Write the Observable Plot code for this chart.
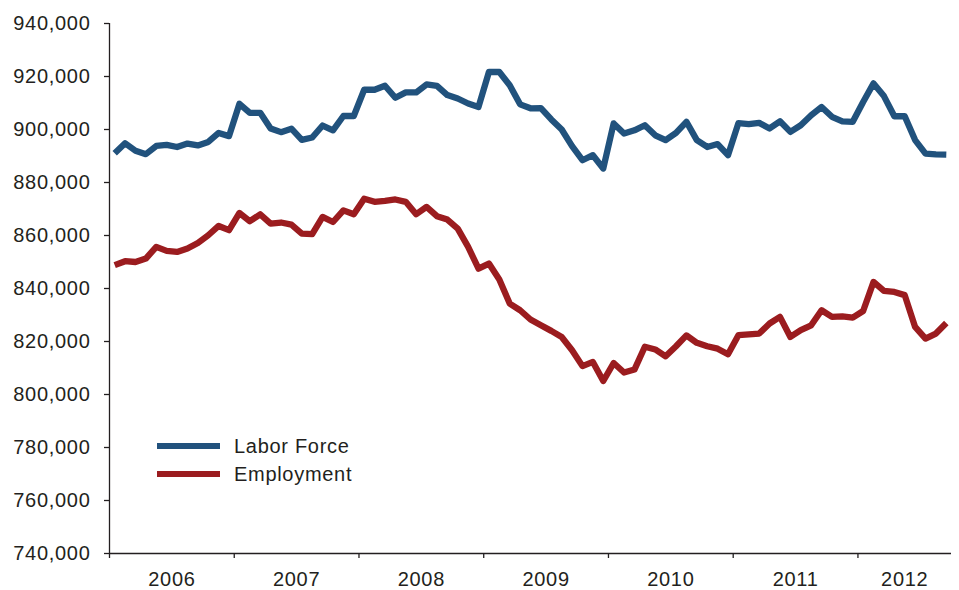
<!DOCTYPE html>
<html>
<head>
<meta charset="utf-8">
<script src="https://cdn.jsdelivr.net/npm/d3@7"></script>
<script src="https://cdn.jsdelivr.net/npm/@observablehq/plot@0.6"></script>
<style>
  body { margin: 0; background: #fff; }
  #wrap { position: relative; width: 959px; height: 590px; font-family: "Liberation Sans", Arial, sans-serif; color: #231f20; }
  #wrap svg text { letter-spacing: 0.7px; }
  .leg-row { position: absolute; left: 157px; height: 28px; display: flex; align-items: center; font-size: 20px; letter-spacing: 0.7px; color: #231f20; white-space: nowrap; }
  .leg-sw { width: 63px; height: 6px; margin-right: 14px; }
</style>
</head>
<body>
<div id="wrap"></div>
<script>
// Monthly data, January 2006 through September 2012
const years = ["2006", "2007", "2008", "2009", "2010", "2011", "2012"];
const seriesNames = ["Labor Force", "Employment"];
const seriesColors = ["#21527d", "#9b1c1f"];
const yTicks = [740000, 760000, 780000, 800000, 820000, 840000, 860000, 880000, 900000, 920000, 940000];

const laborForce = [
  891000, 894800, 892000, 890700, 893800, 894200, 893400, 894700, 894000, 895300, 898700, 897500,
  909700, 906300, 906300, 900400, 899000, 900300, 896100, 897000, 901500, 899700, 905100, 905100,
  915000, 915000, 916500, 912000, 914000, 914000, 917000, 916500, 913000, 911700, 909800, 908500,
  921700, 921700, 916700, 909500, 908000, 908100, 903800, 900000, 893700, 888400, 890300, 885300,
  902300, 898500, 899700, 901600, 897800, 896000, 898700, 902900, 896000, 893400, 894500, 890300,
  902400, 902000, 902500, 900400, 903100, 899100, 901600, 905400, 908500, 904800, 903100, 902900,
  910400, 917400, 912600, 905000, 905000, 896000, 890900, 890600, 890500
];

const employment = [
  848800, 850300, 850000, 851300, 855700, 854200, 853800, 855100, 857200, 860100, 863600, 862000,
  868500, 865400, 868000, 864500, 864900, 864100, 860700, 860500, 867000, 865100, 869500, 868000,
  873900, 872700, 873100, 873600, 872700, 868000, 870800, 867300, 866000, 862600, 855700, 847500,
  849400, 843400, 834300, 831800, 828300, 826100, 824000, 821700, 816700, 810700, 812300, 805100,
  811900, 808300, 809400, 818000, 817000, 814400, 818200, 822300, 819500, 818200, 817300, 815200,
  822400, 822700, 823000, 826800, 829300, 821700, 824300, 826100, 831800, 829300, 829500, 829000,
  831500, 842500, 839100, 838700, 837500, 825500, 821100, 823000, 827000
];

const N = laborForce.length;
const rows = [];
[laborForce, employment].forEach((arr, s) => arr.forEach((v, i) => rows.push({i, value: v, series: seriesNames[s]})));

const yearStarts = years.map((y, k) => k * 12);
const yearCenters = years.map((y, k) => (k * 12 + Math.min(N, (k + 1) * 12)) / 2);
const yearLabel = new Map(yearCenters.map((c, k) => [c, years[k]]));

const chart = Plot.plot({
  width: 959,
  height: 590,
  marginLeft: 109,
  marginRight: 8,
  marginTop: 23,
  marginBottom: 37,
  style: { fontFamily: '"Liberation Sans", Arial, sans-serif', fontSize: "20px", color: "#231f20", background: "#fff" },
  x: { domain: [0, N], axis: null },
  y: { domain: [740000, 940000], axis: null },
  color: { domain: seriesNames, range: seriesColors },
  marks: [
    Plot.axisY(yTicks, { tickSize: 5, tickPadding: 14, tickFormat: d3.format(","), label: null, strokeWidth: 1.3 }),
    Plot.axisX(yearStarts, { tickSize: 5, tickFormat: () => "", label: null, strokeWidth: 1.3 }),
    Plot.axisX(yearCenters, { tickSize: 0, tickPadding: 18, tickFormat: d => yearLabel.get(d), label: null }),
    Plot.ruleY([740000], { stroke: "#231f20", strokeWidth: 1.3 }),
    Plot.ruleX([0], { stroke: "#231f20", strokeWidth: 1.3 }),
    Plot.line(rows, { x: d => d.i + 0.5, y: "value", z: "series", stroke: "series", strokeWidth: 6.3, strokeLinejoin: "round", strokeLinecap: "butt" })
  ]
});

const wrap = document.getElementById("wrap");
wrap.appendChild(chart);

seriesNames.forEach((name, k) => {
  const row = document.createElement("div");
  row.className = "leg-row";
  row.style.top = (432 + k * 28) + "px";
  const sw = document.createElement("div");
  sw.className = "leg-sw";
  sw.style.background = seriesColors[k];
  const label = document.createElement("span");
  label.textContent = name;
  row.appendChild(sw);
  row.appendChild(label);
  wrap.appendChild(row);
});
</script>
</body>
</html>
